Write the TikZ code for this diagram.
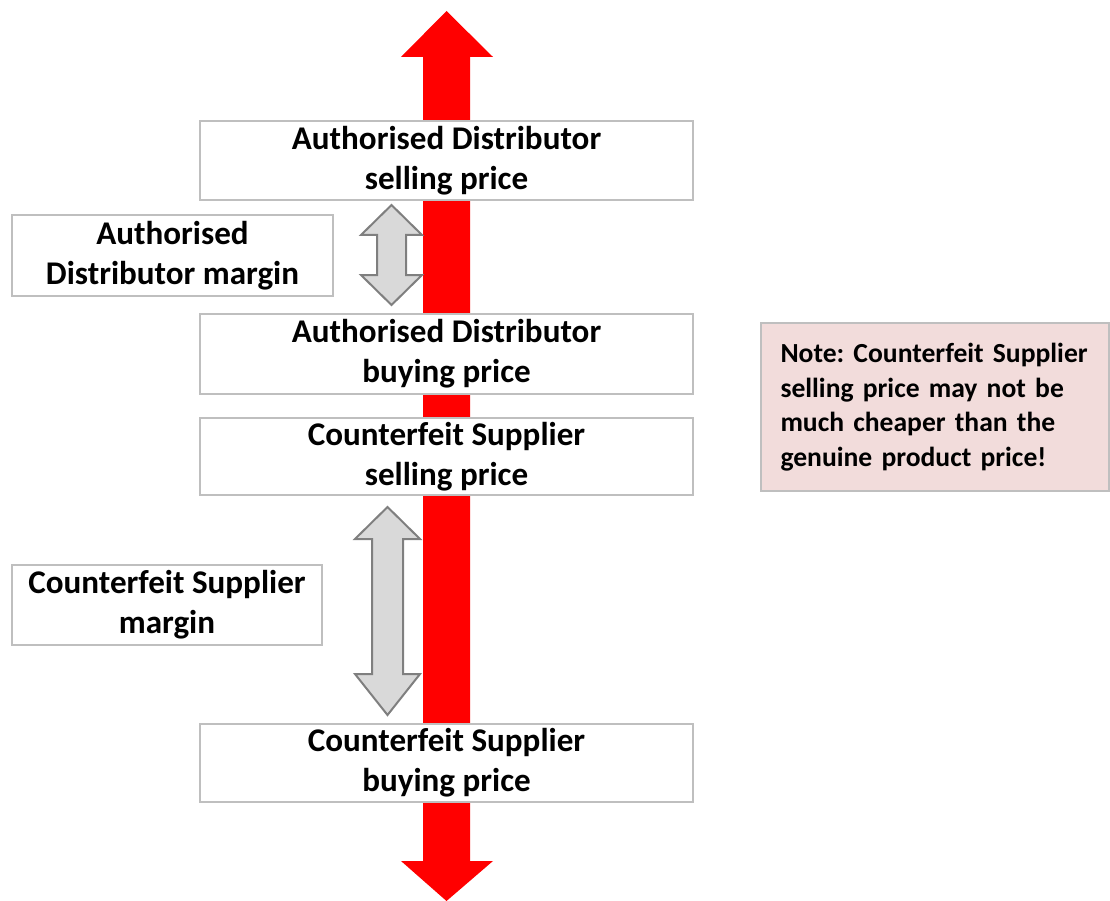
\documentclass[tikz,border=0pt]{standalone}
\usepackage{fontspec}
\setmainfont{Carlito}
\frenchspacing
\definecolor{boxline}{HTML}{BFBFBF}
\definecolor{notefill}{HTML}{F2DCDB}
\definecolor{marginfill}{HTML}{D9D9D9}
\definecolor{marginline}{HTML}{7F7F7F}
\tikzset{
  pricebox/.style={rectangle,draw=boxline,line width=2pt,fill=white,align=center,
    inner sep=0pt,font=\fontsize{33.1}{40}\selectfont\bfseries},
  notebox/.style={rectangle,draw=boxline,line width=2pt,fill=notefill,align=left,
    inner sep=0pt,text width=309pt,font=\fontsize{27.6}{34.5}\selectfont\bfseries},
  marginarrow/.style={fill=marginfill,draw=marginline,line width=2pt,line join=miter}
}
\begin{document}
\begin{tikzpicture}[x=1pt,y=-1pt]
\useasboundingbox (0,0) rectangle (1110,901);
% red price axis
\fill[red] (446.5,11) -- (493,57) -- (470,57) -- (470,861) -- (493,861)
  -- (446.5,901) -- (401,861) -- (423,861) -- (423,57) -- (401,57) -- cycle;
% price boxes
\node[pricebox,minimum width=493,minimum height=79] (ADsell) at (446.5,160.5)
  {Authorised Distributor\\selling price};
\node[pricebox,minimum width=493,minimum height=80] (ADbuy) at (446.5,354)
  {Authorised Distributor\\buying price};
\node[pricebox,minimum width=493,minimum height=77] (CSsell) at (446.5,456.5)
  {Counterfeit Supplier\\selling price};
\node[pricebox,minimum width=493,minimum height=78] (CSbuy) at (446.5,763)
  {Counterfeit Supplier\\buying price};
% margin labels
\node[pricebox,minimum width=321,minimum height=81] (ADmargin) at (172.5,255.5)
  {Authorised\\Distributor margin};
\node[pricebox,minimum width=310,minimum height=80] (CSmargin) at (167,605)
  {Counterfeit Supplier\\margin};
% margin arrows
\draw[marginarrow] (391.5,205) -- (422,235) -- (406,235) -- (406,275) -- (422,275)
  -- (391.5,305) -- (361,275) -- (377,275) -- (377,235) -- (361,235) -- cycle;
\draw[marginarrow] (387.5,507) -- (420,539) -- (403,539) -- (403,674) -- (420,674)
  -- (387.5,715) -- (355,674) -- (372,674) -- (372,539) -- (355,539) -- cycle;
% note
\node[notebox,minimum width=348,minimum height=168] (note) at (935,407)
  {Note: Counterfeit Supplier\\selling price may not be\\much cheaper than the\\genuine product price!};
\end{tikzpicture}
\end{document}
